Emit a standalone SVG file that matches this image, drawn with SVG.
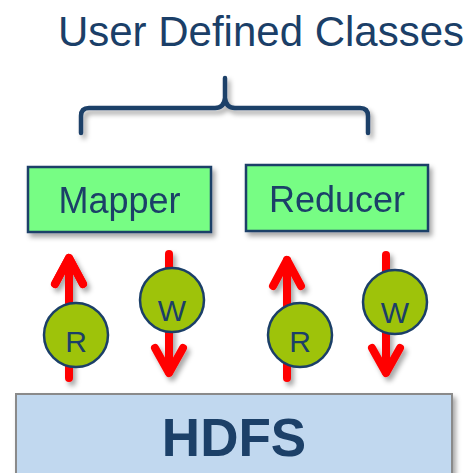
<svg xmlns="http://www.w3.org/2000/svg" width="471" height="473" viewBox="0 0 471 473">
<defs>
<filter id="sh" x="-20%" y="-20%" width="150%" height="150%">
<feDropShadow dx="3" dy="4" stdDeviation="2.5" flood-color="#000" flood-opacity="0.35"/>
</filter>
</defs>
<style>
.t{font-family:"Liberation Sans",Arial,sans-serif;fill:#1b3f68}
.box{fill:#77fd84;stroke:#1b3f68;stroke-width:2.5}
.circ{fill:#9ec30a;stroke:#1b3f68;stroke-width:2.5}
.arr{fill:none;stroke:#ff0000;stroke-width:8;stroke-linecap:round;stroke-linejoin:round}
</style>
<rect width="471" height="473" fill="#fff"/>
<text class="t" x="261" y="46" font-size="42" text-anchor="middle">User Defined Classes</text>
<g id="brace" filter="url(#sh)">
<path d="M81,133 V116 Q81,108 89,108 H215 Q224,108 225,98 V78 M225,98 Q226,108 235,108 H360 Q368,108 368,116 V133" fill="none" stroke="#1b3f68" stroke-width="4.5" stroke-linecap="round"/>
</g>
<g id="mapper" filter="url(#sh)">
<rect class="box" x="28" y="167" width="183" height="65"/>
<text class="t" x="119.5" y="213" font-size="36" text-anchor="middle">Mapper</text>
</g>
<g id="reducer" filter="url(#sh)">
<rect class="box" x="246" y="165" width="182" height="66"/>
<text class="t" x="337" y="212" font-size="36" text-anchor="middle">Reducer</text>
</g>
<g id="connectors" filter="url(#sh)">
<path class="arr" d="M69,378 V258 M55,284 L69,258 L83,284" stroke-linecap="butt"/>
<path class="arr" d="M55,284 L69,258 L83,284"/>
<path class="arr" d="M169,254 V372" stroke-linecap="butt"/>
<path class="arr" d="M155,348 L169,373 L183,348"/>
<path class="arr" d="M287,378 V260" stroke-linecap="butt"/>
<path class="arr" d="M273,286 L287,260 L301,286"/>
<path class="arr" d="M386,255 V372" stroke-linecap="butt"/>
<path class="arr" d="M372,348 L386,373 L400,348"/>
</g>
<g id="r1">
<circle class="circ" cx="76" cy="335" r="32"/>
<text class="t" x="76" y="352" font-size="30" text-anchor="middle">R</text>
</g>
<g id="w1">
<circle class="circ" cx="172" cy="300" r="32"/>
<text class="t" x="172" y="321" font-size="30" text-anchor="middle">W</text>
</g>
<g id="r2">
<circle class="circ" cx="300" cy="335" r="32"/>
<text class="t" x="300" y="352" font-size="30" text-anchor="middle">R</text>
</g>
<g id="w2">
<circle class="circ" cx="395" cy="302" r="32"/>
<text class="t" x="395" y="323" font-size="30" text-anchor="middle">W</text>
</g>
<g id="hdfs" filter="url(#sh)">
<rect x="16" y="394" width="436" height="90" fill="#c1d8ef" stroke="#8a8a8a" stroke-width="2"/>
<text class="t" x="234" y="456" font-size="53" font-weight="bold" text-anchor="middle">HDFS</text>
</g>
</svg>
